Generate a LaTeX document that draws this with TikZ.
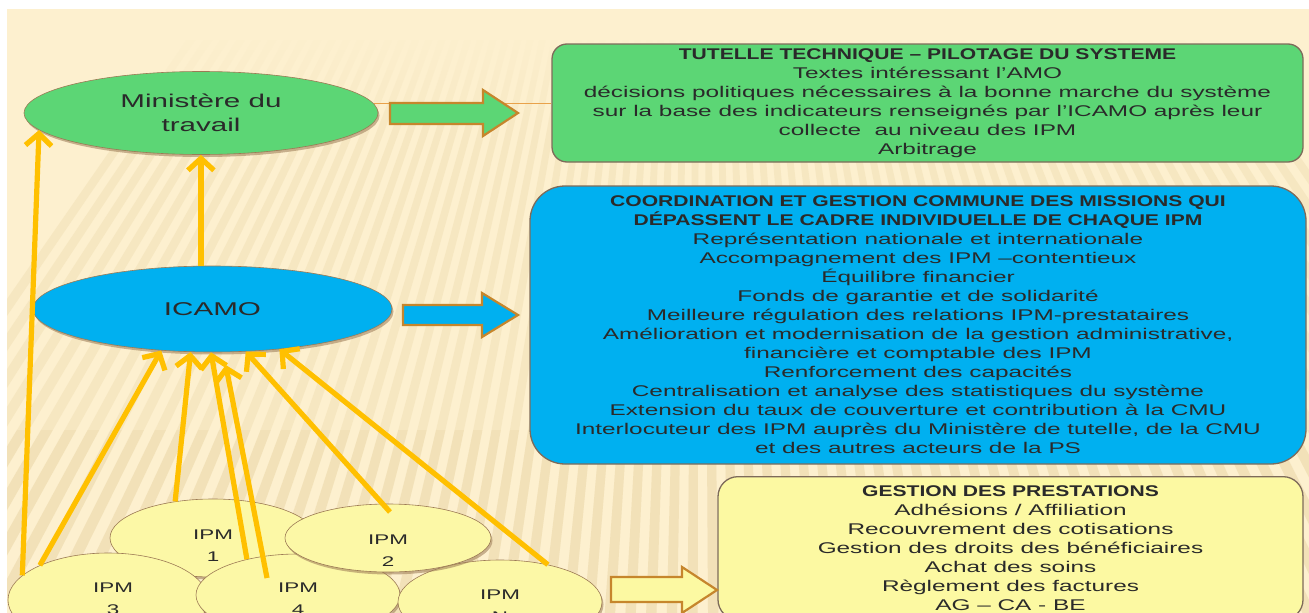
\documentclass[tikz,border=0pt]{standalone}
\usepackage{fontspec}
\setmainfont{Liberation Sans}
\usepackage{graphicx}
\usetikzlibrary{arrows.meta,shapes.geometric,shadows,calc}

\definecolor{cream}{HTML}{FDF0CF}
\definecolor{stripec}{HTML}{E9D5A4}
\definecolor{greenf}{HTML}{5CD675}
\definecolor{bluef}{HTML}{00B0F0}
\definecolor{yellowf}{HTML}{FCF9A2}
\definecolor{ipmf}{HTML}{FCF8A6}
\definecolor{boxborder}{HTML}{7E6B5A}
\definecolor{barrowb}{HTML}{C6862C}
\definecolor{arrowc}{HTML}{FFC000}
\definecolor{thinline}{HTML}{E9A24A}
\definecolor{txt}{HTML}{2A2A2A}
\definecolor{shadowc}{HTML}{9C7A55}

\newcommand\BoxLine[1]{\scalebox{1.57}[1]{#1}}
\newcommand\BoxTitle[1]{\scalebox{1.36}[1]{\bfseries #1}}
\newcommand\EllText[1]{\scalebox{1.6}[1]{#1}}

\begin{document}
\begin{tikzpicture}[x=1pt,y=-1pt,
  ell/.style={ellipse, draw=shadowc, line width=0.6pt, inner sep=0pt,
    drop shadow={shadow xshift=1.5pt, shadow yshift=-2.5pt, fill=shadowc, opacity=0.55}},
  ipm/.style={ell, fill=ipmf},
  ipmtxt/.style={align=center, text=txt, inner sep=0pt, font=\fontsize{14}{22}\selectfont},
  infobox/.style={draw=boxborder, line width=1.3pt, inner sep=0pt, align=center, text=txt,
    font=\fontsize{15.5}{19}\selectfont},
  barrow/.style={draw=barrowb, line width=2.2pt, line join=miter},
  arr/.style={draw=arrowc, line width=5.2pt, -{Straight Barb[length=12pt,width=26pt]}},
  stripe/.style={fill=stripec, opacity=0.32}
]
\useasboundingbox (0,0) rectangle (1309,613);
\fill[white] (0,0) rectangle (1309,613);
\fill[cream] (7,9) rectangle (1309,613);

% background rays
\begin{scope}
\clip (7,40) rectangle (1309,613);
\foreach \a [evaluate=\a as \b using \a+0.45] in {55,55.9,...,125} {
  \fill[stripe] (700,-700) -- +(\a:2400) -- +(\b:2400) -- cycle;
}
\end{scope}
\begin{scope}
\clip (7,430) rectangle (1309,613);
\foreach \a [evaluate=\a as \b using \a+0.45] in {55,55.9,...,125} {
  \fill[stripe, opacity=0.3] (700,-700) -- +(\a:2400) -- +(\b:2400) -- cycle;
}
\end{scope}
% soft fade of the rays towards the top
\foreach \i in {0,...,9} {
  \pgfmathsetmacro\op{0.9-0.09*\i}
  \fill[cream, opacity=\op] (7,40+10*\i) rectangle (1309,50+10*\i);
}

% boxes
\node[infobox, fill=greenf, rounded corners=15pt, minimum width=751, minimum height=118]
  (tut) at (927.5,103) {\BoxTitle{TUTELLE TECHNIQUE – PILOTAGE DU SYSTEME}\\
  \BoxLine{Textes intéressant l’AMO}\\
  \BoxLine{décisions politiques nécessaires à la bonne marche du système}\\
  \BoxLine{sur la base des indicateurs renseignés par l’ICAMO après leur}\\
  \BoxLine{collecte\ \ au niveau des IPM}\\
  \BoxLine{Arbitrage}};

\node[infobox, fill=bluef, rounded corners=35pt, minimum width=776, minimum height=278]
  (coord) at (918,325) {\BoxTitle{COORDINATION ET GESTION COMMUNE DES MISSIONS QUI}\\
  \BoxTitle{DÉPASSENT LE CADRE INDIVIDUELLE DE CHAQUE IPM}\\
  \BoxLine{Représentation nationale et internationale}\\
  \BoxLine{Accompagnement des IPM –contentieux}\\
  \BoxLine{Équilibre financier}\\
  \BoxLine{Fonds de garantie et de solidarité}\\
  \BoxLine{Meilleure régulation des relations IPM-prestataires}\\
  \BoxLine{Amélioration et modernisation de la gestion administrative,}\\
  \BoxLine{financière et comptable des IPM}\\
  \BoxLine{Renforcement des capacités}\\
  \BoxLine{Centralisation et analyse des statistiques du système}\\
  \BoxLine{Extension du taux de couverture et contribution à la CMU}\\
  \BoxLine{Interlocuteur des IPM auprès du Ministère de tutelle, de la CMU}\\
  \BoxLine{et des autres acteurs de la PS}};

\node[infobox, fill=yellowf, rounded corners=20pt, minimum width=585, minimum height=143, anchor=north]
  (prest) at (1010.5,476) {\BoxTitle{GESTION DES PRESTATIONS}\\
  \BoxLine{Adhésions / Affiliation}\\
  \BoxLine{Recouvrement des cotisations}\\
  \BoxLine{Gestion des droits des bénéficiaires}\\
  \BoxLine{Achat des soins}\\
  \BoxLine{Règlement des factures}\\
  \BoxLine{AG – CA - BE}};

% main ellipses
\node[ell, fill=greenf, minimum width=354, minimum height=83, align=center, text=txt,
  font=\fontsize{18.5}{24}\selectfont] (min) at (201,113)
  {\EllText{Ministère du}\\\EllText{travail}};
\node[ell, fill=bluef, minimum width=359, minimum height=86, text=txt,
  font=\fontsize{18.5}{24}\selectfont] (icamo) at (212.5,309) {\EllText{ICAMO}};

% thin line and block arrows
\draw[thinline, line width=1pt] (min.3.3) -- (min.3.3 -| tut.west);
\filldraw[barrow, fill=greenf] (390,103) -- (483,103) -- (483,90) -- (518,113)
  -- (483,136) -- (483,124) -- (390,124) -- cycle;
\filldraw[barrow, fill=bluef] (403,305) -- (482,305) -- (482,293) -- (518,315)
  -- (482,337) -- (482,325) -- (403,325) -- cycle;
\filldraw[barrow, fill=yellowf] (611,577) -- (682,577) -- (682,567) -- (717,590)
  -- (682,613) -- (682,602) -- (611,602) -- cycle;

% IPM ellipses
\node[ipm, minimum width=206, minimum height=78] (ipm1) at (213,538) {};
\node[ipm, minimum width=200, minimum height=94] (ipm3) at (108,600) {};
\node[ipm, minimum width=204, minimum height=82] (ipm4) at (298,595) {};
\node[ipm, minimum width=204, minimum height=84] (ipmN) at (500,602) {};
\node[ipm, minimum width=206, minimum height=68] (ipm2) at (388,538) {};

\node[ipmtxt] (t1) at (213,546) {\EllText{IPM}\\\EllText{1}};
\node[ipmtxt] (t2) at (388,551) {\EllText{IPM}\\\EllText{2}};
\node[ipmtxt] (t3) at (113,599) {\EllText{IPM}\\\EllText{3}};
\node[ipmtxt] (t4) at (298,599) {\EllText{IPM}\\\EllText{4}};
\node[ipmtxt] (tN) at (500,606) {\EllText{IPM}\\\EllText{N}};

% connectors
\coordinate (d0) at (267,578);
\coordinate (e0) at (390,512);
\draw[arr] (ipm3.164) -- (min.186);
\draw[arr] (icamo.105) -- (icamo.105 |- min.south);
\draw[arr] (ipm3.153) -- (icamo.219);
\draw[arr] (ipm1.136) -- (icamo.243);
\draw[arr] (ipm4.145) -- (icamo.268);
\draw[arr, shorten >=13pt] (d0) -- (icamo.284);
\draw[arr] (e0) -- (icamo.308);
\draw[arr] (ipmN.38) -- (icamo.329.6);
\end{tikzpicture}
\end{document}
